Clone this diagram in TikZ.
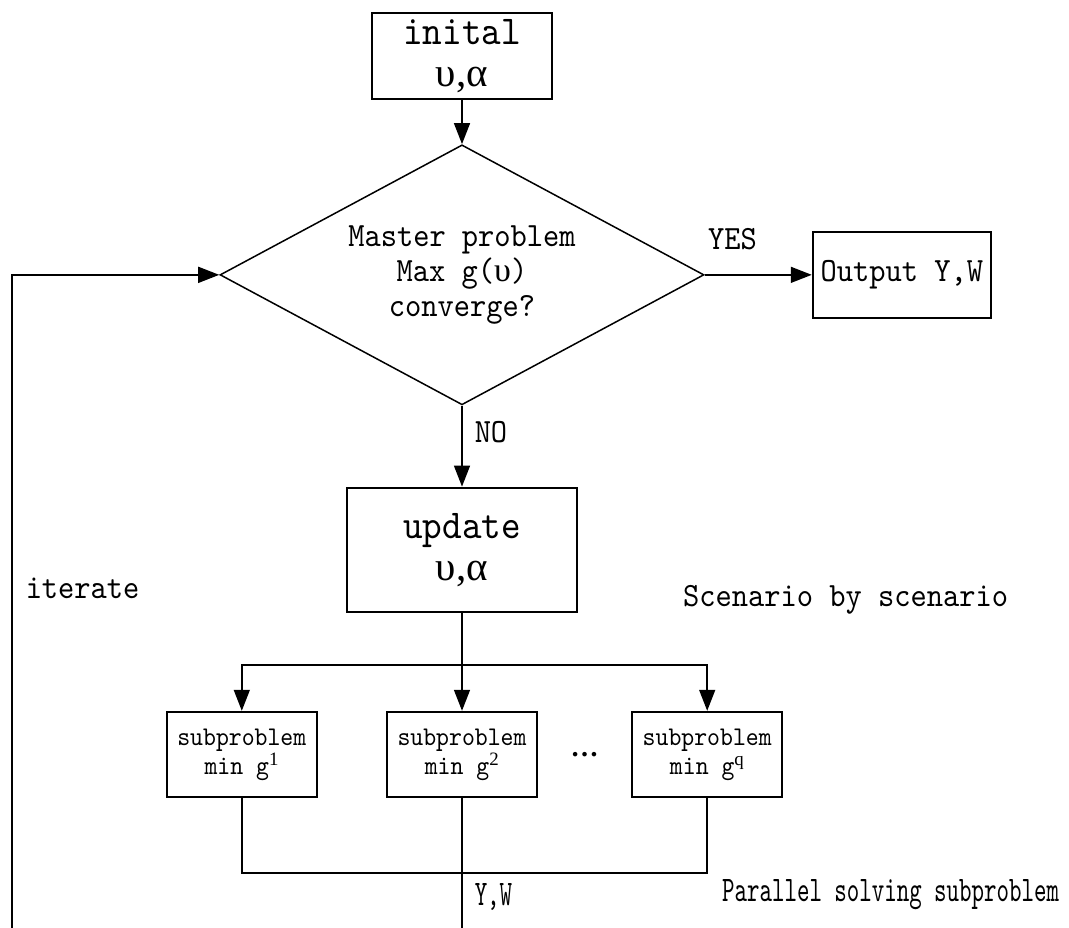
\documentclass[tikz,border=0pt]{standalone}
\usepackage{fontspec}
\setmainfont{lmmono10-regular}[Extension=.otf, FakeStretch=0.91]
\newfontfamily\greekfont{Liberation Serif}
\newfontfamily\narrowfont{lmmono10-regular}[Extension=.otf, FakeStretch=0.66]
\usepackage{tikz}
\usetikzlibrary{shapes, arrows.meta, positioning, calc, shapes.geometric}

\begin{document}
\begin{tikzpicture}[x=1pt, y=-1pt, node distance=40pt, >={Triangle[length=21pt, width=16pt]},
    block/.style={rectangle, draw=black, line width=2.2pt, align=center, inner sep=0pt, font=\fontsize{41}{42}\selectfont},
    decision/.style={diamond, aspect=1.86, draw=black, line width=1.5pt, inner sep=0pt, minimum width=484pt, minimum height=260pt, align=center, font=\fontsize{34}{35}\selectfont},
    subbox/.style={rectangle, draw=black, line width=2.2pt, minimum width=150pt, minimum height=85pt, align=center, inner sep=0pt, font=\fontsize{27}{29}\selectfont},
    note/.style={inner sep=0pt, font=\fontsize{34}{34}\selectfont},
    smallnote/.style={inner sep=0pt, font=\narrowfont\fontsize{36}{36}\selectfont},
    arrow/.style={line width=1.5pt, ->},
    line/.style={line width=1.5pt}]

    \useasboundingbox (0,0) rectangle (1069,928);

    % Start
    \node[block, minimum width=180pt, minimum height=86pt] (init) at (462,56) {inital\\{\greekfont υ,α}};

    % Master problem
    \node[decision, below=44pt of init] (master) {Master problem\\Max g({\greekfont υ})\\converge?};
    \node[block, right=107pt of master, minimum width=178pt, minimum height=86pt, font=\fontsize{34}{34}\selectfont] (output) {Output Y,W};

    % Multiplier update
    \node[block, below=81pt of master, minimum width=230pt, minimum height=124pt] (update) {update\\{\greekfont υ,α}};

    % Subproblems
    \node[subbox, below=98pt of update] (sub2) {subproblem\\min g\textsuperscript{\greekfont 2}};
    \node[subbox, left=68pt of sub2] (sub1) {subproblem\\min g\textsuperscript{\greekfont 1}};
    \node[subbox, right=93pt of sub2] (sub3) {subproblem\\min g\textsuperscript{\greekfont q}};
    \node[inner sep=0pt, font=\greekfont\bfseries\fontsize{28}{28}\selectfont] (dots) at ($(sub2.east)!0.5!(sub3.west)$) {…};

    % Side texts
    \node[note, anchor=west] (scenario) at (683,600) {Scenario by scenario};
    \node[smallnote, anchor=west] (parallel) at (722,895) {Parallel solving subproblem};

    % Helper points
    \coordinate (fork) at ($(update.south)+(0pt,-52pt)$);
    \coordinate (join) at ($(sub2.south)+(0pt,-75pt)$);
    \coordinate (bottom) at (0,928);
    \coordinate (loopstart) at (12,928);

    % Connections
    \draw[arrow] (init) -- (master);
    \draw[arrow] (master) -- node[note, pos=0.26, above=24pt] {YES} (output);
    \draw[arrow] (master) -- node[note, pos=0.33, right=12pt] {NO} (update);
    \draw[arrow] (update) -- (sub2);
    \draw[arrow] (fork) -| (sub1);
    \draw[arrow] (fork) -| (sub3);
    \draw[line] (sub1) |- (join) -| (sub3);
    \draw[line] (sub2) -- node[smallnote, pos=0.76, right=12pt] {Y,W} (sub2.south |- bottom);
    \draw[arrow] (loopstart) |- node[note, pos=0.26, right=13pt] {iterate} (master);
\end{tikzpicture}
\end{document}
